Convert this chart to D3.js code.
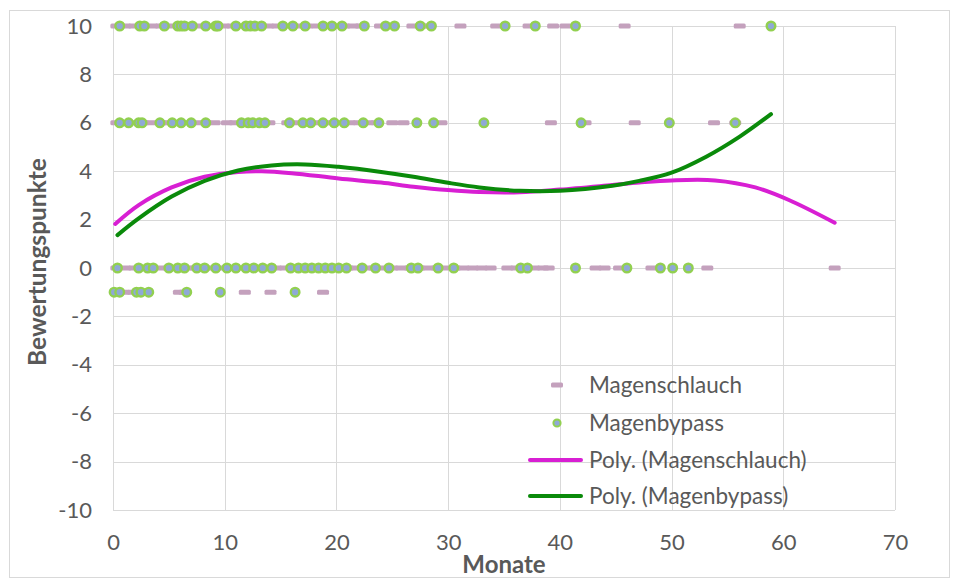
<!DOCTYPE html>
<html>
<head>
<meta charset="utf-8">
<script src="https://cdn.jsdelivr.net/npm/d3@7"></script>
<style>
  body { margin: 0; background: #fff; }
  text { font-family: Lato, "Open Sans", sans-serif; fill: #595959; }
</style>
</head>
<body>
<script>
// Magenschlauch (dash markers), months per score
const schlauchAt10 = [0.3, 1.1, 1.9, 2.7, 3.5, 4.3, 5.1, 5.9, 6.7, 7.5, 8.3, 9.1, 9.9, 10.7, 11.5, 12.3, 13.1, 13.9, 14.7, 15.6, 16.5, 17.4, 18.3, 19.1, 19.9, 20.7, 21.5, 22.2, 23.9, 24.7, 25.1, 26.8, 27.6, 28.4, 31.1, 34.3, 37.2, 39.4, 40.5, 45.8, 56.1];
const schlauchAt6 = [0.3, 1.1, 1.9, 2.7, 3.5, 4.3, 5.1, 5.9, 6.7, 7.5, 8.3, 9.1, 10.2, 10.9, 11.7, 12.5, 13.3, 14.0, 15.6, 16.4, 17.2, 18.0, 18.8, 19.6, 20.4, 21.2, 22.0, 22.8, 23.6, 25.0, 26.0, 29.4, 39.2, 42.3, 46.7, 53.8, 55.7];
const schlauchAt0 = [0.3, 1.1, 1.9, 2.6, 3.4, 4.2, 5.0, 5.8, 6.6, 7.4, 8.2, 9.0, 9.8, 10.6, 11.4, 12.2, 13.0, 13.8, 14.6, 15.4, 16.2, 17.0, 17.8, 18.6, 19.4, 20.2, 21.0, 21.8, 22.6, 23.4, 24.2, 25.0, 25.8, 26.6, 27.4, 28.2, 29.0, 29.8, 30.6, 31.4, 32.2, 33.0, 33.8, 35.3, 36.1, 36.9, 37.7, 38.5, 39.0, 43.2, 44.0, 45.3, 48.2, 53.2, 64.6];
const schlauchAtMinus1 = [0.3, 1.0, 1.8, 2.6, 3.0, 5.9, 6.4, 11.8, 14.1, 18.8];

// Magenbypass (dots), months per score
const bypassAt10 = [0.6, 2.4, 2.8, 4.6, 5.8, 6.1, 6.4, 7.1, 8.3, 9.2, 9.4, 11.0, 11.9, 12.3, 12.7, 13.3, 15.2, 16.1, 17.2, 18.8, 19.6, 20.5, 22.5, 24.4, 25.2, 27.5, 28.5, 35.1, 37.8, 41.4, 58.9];
const bypassAt6 = [0.6, 1.4, 2.3, 2.6, 4.2, 5.3, 6.1, 7.0, 8.3, 11.5, 12.1, 12.5, 13.1, 13.6, 15.8, 17.0, 17.7, 18.8, 19.8, 20.7, 22.4, 23.8, 27.2, 28.7, 33.2, 41.9, 49.8, 55.7];
const bypassAt0 = [0.4, 2.3, 3.1, 3.6, 5.0, 5.8, 6.4, 7.5, 8.2, 9.2, 10.2, 11.0, 11.9, 12.6, 13.4, 14.2, 15.9, 16.6, 17.2, 17.8, 18.4, 19.0, 19.6, 20.2, 20.9, 22.3, 23.5, 24.7, 26.7, 27.3, 29.1, 30.5, 36.5, 37.1, 41.4, 46.0, 49.0, 50.1, 51.5];
const bypassAtMinus1 = [0.1, 0.6, 2.1, 2.5, 3.2, 6.6, 9.6, 16.3];

// Polynomial trend lines [month, score]
const trendSchlauch = [[0.2, 1.82], [2.3, 2.6], [5.25, 3.33], [8.2, 3.77], [11.2, 3.97], [13.3, 4.0], [16, 3.92], [20.2, 3.7], [24, 3.53], [26.9, 3.36], [30, 3.22], [32.8, 3.14], [36.4, 3.13], [40, 3.24], [44.7, 3.43], [47.1, 3.53], [50, 3.62], [53.9, 3.62], [57.5, 3.33], [60.5, 2.81], [64.6, 1.87]];
const trendBypass = [[0.4, 1.36], [2.3, 2.05], [5.25, 2.95], [8.2, 3.6], [11.2, 4.03], [14.2, 4.24], [17.2, 4.28], [20.2, 4.18], [24, 3.97], [26.9, 3.77], [30, 3.52], [32.8, 3.33], [36.4, 3.19], [40, 3.19], [44.7, 3.4], [47.1, 3.6], [50, 3.94], [53.1, 4.6], [56.1, 5.43], [58.9, 6.36]];

const xTicks = [0, 10, 20, 30, 40, 50, 60, 70];
const yTicks = [-10, -8, -6, -4, -2, 0, 2, 4, 6, 8, 10];
const legendLabels = ["Magenschlauch", "Magenbypass", "Poly. (Magenschlauch)", "Poly. (Magenbypass)"];

const width = 957;
const height = 580;
const colSchlauch = "#c4a1bd";
const colDotFill = "#8fa9d6";
const colDotStroke = "#92d050";
const colTrendS = "#d81fd3";
const colTrendB = "#0a8a0a";

const svg = d3.select("body").append("svg")
    .attr("width", width)
    .attr("height", height);

// outer chart frame
svg.append("rect")
    .attr("x", 9.5).attr("y", 10.5)
    .attr("width", 940).attr("height", 567)
    .attr("fill", "none")
    .attr("stroke", "#d9d9d9");

const x = d3.scaleLinear().domain([0, 70]).range([113, 895]);
const y = d3.scaleLinear().domain([-10, 10]).range([510, 26]);

// grid
svg.append("g").selectAll("line").data(yTicks).join("line")
    .attr("x1", x(0)).attr("x2", x(70))
    .attr("y1", d => Math.round(y(d)) + 0.5).attr("y2", d => Math.round(y(d)) + 0.5)
    .attr("stroke", "#d9d9d9");
svg.append("g").selectAll("line").data(xTicks).join("line")
    .attr("x1", d => Math.round(x(d)) + 0.5).attr("x2", d => Math.round(x(d)) + 0.5)
    .attr("y1", y(10)).attr("y2", y(-10))
    .attr("stroke", "#d9d9d9");

// axes (labels only), plain hyphen for negatives like Excel
const xAxis = svg.append("g")
    .attr("transform", `translate(0, ${y(-10)})`)
    .call(d3.axisBottom(x).tickValues(xTicks).tickSize(0).tickPadding(24)
        .tickFormat(d => String(d)));
const yAxis = svg.append("g")
    .attr("transform", `translate(${x(0)}, 0)`)
    .call(d3.axisLeft(y).tickValues(yTicks).tickSize(0).tickPadding(21)
        .tickFormat(d => String(d)));
[xAxis, yAxis].forEach(a => {
    a.select(".domain").remove();
    a.selectAll("text").attr("font-size", 22).attr("fill", "#595959")
        .style("font-family", "Lato, sans-serif");
});

svg.append("text")
    .attr("x", (x(0) + x(70)) / 2).attr("y", 573)
    .attr("text-anchor", "middle")
    .attr("font-size", 24).attr("font-weight", "bold")
    .text("Monate");
svg.append("text")
    .attr("transform", `translate(46, ${(y(10) + y(-10)) / 2 - 6}) rotate(-90)`)
    .attr("text-anchor", "middle")
    .attr("font-size", 24.5).attr("font-weight", "bold")
    .text("Bewertungspunkte");

// scatter data
const schlauch = [].concat(
    schlauchAt10.map(m => [m, 10]),
    schlauchAt6.map(m => [m, 6]),
    schlauchAt0.map(m => [m, 0]),
    schlauchAtMinus1.map(m => [m, -1]));
const bypass = [].concat(
    bypassAt10.map(m => [m, 10]),
    bypassAt6.map(m => [m, 6]),
    bypassAt0.map(m => [m, 0]),
    bypassAtMinus1.map(m => [m, -1]));

svg.append("g").selectAll("rect").data(schlauch).join("rect")
    .attr("x", d => x(d[0]) - 6).attr("y", d => y(d[1]) - 2.5)
    .attr("width", 12).attr("height", 5)
    .attr("rx", 1.5)
    .attr("fill", colSchlauch);

svg.append("g").selectAll("circle").data(bypass).join("circle")
    .attr("cx", d => x(d[0])).attr("cy", d => y(d[1]))
    .attr("r", 4.3)
    .attr("fill", colDotFill)
    .attr("stroke", colDotStroke)
    .attr("stroke-width", 2.4);

// trend lines
const line = d3.line()
    .x(d => x(d[0]))
    .y(d => y(d[1]))
    .curve(d3.curveCatmullRom);
svg.append("path").datum(trendSchlauch)
    .attr("d", line)
    .attr("fill", "none").attr("stroke", colTrendS)
    .attr("stroke-width", 4).attr("stroke-linecap", "round");
svg.append("path").datum(trendBypass)
    .attr("d", line)
    .attr("fill", "none").attr("stroke", colTrendB)
    .attr("stroke-width", 4).attr("stroke-linecap", "round");

// legend
const legendY = [385, 423, 460, 496];
const legend = svg.append("g");
legend.append("rect")
    .attr("x", 551).attr("y", legendY[0] - 2.5)
    .attr("width", 12).attr("height", 5).attr("rx", 1.5)
    .attr("fill", colSchlauch);
legend.append("circle")
    .attr("cx", 557).attr("cy", legendY[1]).attr("r", 3.6)
    .attr("fill", colDotFill).attr("stroke", colDotStroke).attr("stroke-width", 2);
legend.append("line")
    .attr("x1", 530).attr("x2", 581).attr("y1", legendY[2]).attr("y2", legendY[2])
    .attr("stroke", colTrendS).attr("stroke-width", 4).attr("stroke-linecap", "round");
legend.append("line")
    .attr("x1", 530).attr("x2", 581).attr("y1", legendY[3]).attr("y2", legendY[3])
    .attr("stroke", colTrendB).attr("stroke-width", 4).attr("stroke-linecap", "round");
legend.selectAll("text").data(legendLabels).join("text")
    .attr("x", 589)
    .attr("y", (d, i) => legendY[i])
    .attr("dy", "0.35em")
    .attr("font-size", 22.5)
    .text(d => d);
</script>
</body>
</html>
